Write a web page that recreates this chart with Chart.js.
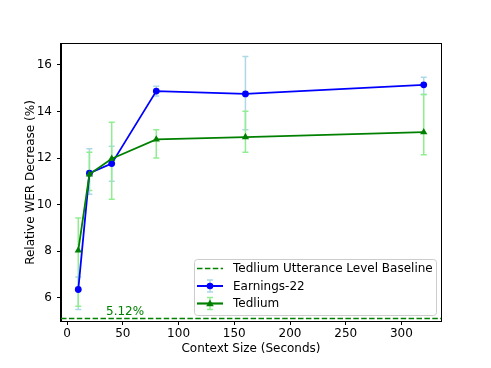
<!DOCTYPE html>
<html>
<head>
<meta charset="utf-8">
<script src="https://cdn.jsdelivr.net/npm/chart.js@4.4.1/dist/chart.umd.min.js"></script>
<style>
  html, body { margin: 0; padding: 0; background: #fff; }
  #wrap { width: 491px; height: 368px; }
</style>
</head>
<body>
<div id="wrap"><canvas id="chart" width="491" height="368"></canvas></div>
<script>
// context sizes in seconds
const contextSizes = [10, 20, 40, 80, 160, 320];

// Earnings-22 relative WER decrease (%) with error bar ends
const earningsVals = [6.36, 11.35, 11.76, 14.87, 14.75, 15.14];
const earningsLow  = [5.50, 10.45, 11.00, 14.66, 13.21, 14.72];
const earningsHigh = [6.90, 12.40, 12.50, 15.08, 16.35, 15.46];

// Tedlium relative WER decrease (%) with error bar ends
const tedliumVals = [8.04, 11.30, 11.97, 12.80, 12.90, 13.11];
const tedliumLow  = [5.64, 10.61, 10.23, 12.00, 12.25, 12.14];
const tedliumHigh = [9.43, 12.25, 13.53, 13.21, 14.01, 14.72];

// utterance level baseline
const baselineValue = 5.12;
const baselineLabel = '5.12%';
const baselineLabelX = 52;

const xTicks = [0, 50, 100, 150, 200, 250, 300];
const yTicks = [6, 8, 10, 12, 14, 16];

const FONT = 'DejaVu Sans';
const FS = 12;

function toPoints(xs, ys) {
    return xs.map((x, i) => ({ x: x, y: ys[i] }));
}

// errorbars drawn under the lines
const errorBarPlugin = {
    id: 'errorBars',
    beforeDatasetsDraw(chart) {
        const ctx = chart.ctx;
        const xs = chart.scales.x, ys = chart.scales.y;
        chart.data.datasets.forEach((ds) => {
            if (!ds.errLow) return;
            ctx.save();
            ctx.strokeStyle = ds.errColor;
            ctx.lineWidth = 1.5;
            ds.data.forEach((p, i) => {
                const px = xs.getPixelForValue(p.x);
                const yLo = ys.getPixelForValue(ds.errLow[i]);
                const yHi = ys.getPixelForValue(ds.errHigh[i]);
                ctx.beginPath();
                ctx.moveTo(px, yLo); ctx.lineTo(px, yHi);
                ctx.moveTo(px - 3, yLo); ctx.lineTo(px + 3, yLo);
                ctx.moveTo(px - 3, yHi); ctx.lineTo(px + 3, yHi);
                ctx.stroke();
            });
            ctx.restore();
        });
    }
};

// dashed baseline + label, frame, legend
const extrasPlugin = {
    id: 'extras',
    afterDatasetsDraw(chart) {
        const ctx = chart.ctx;
        const ca = chart.chartArea;
        const ys = chart.scales.y, xs = chart.scales.x;
        const by = ys.getPixelForValue(baselineValue);
        ctx.save();
        ctx.strokeStyle = '#008000';
        ctx.lineWidth = 1.5;
        ctx.setLineDash([5.5, 2.4]);
        ctx.beginPath();
        ctx.moveTo(ca.left, by); ctx.lineTo(ca.right, by);
        ctx.stroke();
        ctx.setLineDash([]);
        ctx.fillStyle = '#008000';
        ctx.font = FS + 'px "' + FONT + '"';
        ctx.textAlign = 'center';
        ctx.textBaseline = 'bottom';
        ctx.fillText(baselineLabel, xs.getPixelForValue(baselineLabelX), by - 1);
        ctx.restore();
    },
    afterDraw(chart) {
        const ctx = chart.ctx;
        const ca = chart.chartArea;
        ctx.save();
        // frame (matplotlib spines)
        ctx.strokeStyle = '#000';
        ctx.lineWidth = 1;
        ctx.strokeRect(Math.round(ca.left) - 0.5, Math.round(ca.top) - 0.5,
                       Math.round(ca.right - ca.left) + 1, Math.round(ca.bottom - ca.top) + 1);

        // legend, lower right
        const w = 242, h = 56;
        const lx = ca.right - 5 - w, ly = ca.bottom - 6 - h;
        ctx.fillStyle = 'rgba(255,255,255,0.8)';
        ctx.strokeStyle = '#cccccc';
        ctx.beginPath();
        ctx.roundRect(lx + 0.5, ly + 0.5, w, h, 3);
        ctx.fill();
        ctx.stroke();

        const rows = [
            { label: 'Tedlium Utterance Level Baseline', color: '#008000', dashed: true },
            { label: 'Earnings-22', color: '#0000ff', err: '#add8e6', marker: 'circle' },
            { label: 'Tedlium', color: '#008000', err: '#90ee90', marker: 'triangle' }
        ];
        ctx.font = FS + 'px "' + FONT + '"';
        ctx.textAlign = 'left';
        ctx.textBaseline = 'middle';
        rows.forEach((r, i) => {
            const cy = ly + 9.5 + i * 17.5;
            const x0 = lx + 3, x1 = lx + 29, cx = (x0 + x1) / 2;
            ctx.strokeStyle = r.color;
            ctx.lineWidth = 1.6;
            if (r.dashed) ctx.setLineDash([5.5, 2.4]);
            ctx.beginPath(); ctx.moveTo(x0, cy); ctx.lineTo(x1, cy); ctx.stroke();
            ctx.setLineDash([]);
            if (r.err) {
                ctx.strokeStyle = r.err;
                ctx.lineWidth = 1.5;
                ctx.beginPath();
                ctx.moveTo(cx, cy - 6); ctx.lineTo(cx, cy + 6);
                ctx.moveTo(cx - 3, cy - 6); ctx.lineTo(cx + 3, cy - 6);
                ctx.moveTo(cx - 3, cy + 6); ctx.lineTo(cx + 3, cy + 6);
                ctx.stroke();
                ctx.strokeStyle = r.color;
                ctx.lineWidth = 1.8;
                ctx.beginPath(); ctx.moveTo(x0, cy); ctx.lineTo(x1, cy); ctx.stroke();
                ctx.fillStyle = r.color;
                ctx.beginPath();
                if (r.marker === 'circle') {
                    ctx.arc(cx, cy, 3.3, 0, Math.PI * 2);
                } else {
                    ctx.moveTo(cx, cy - 4); ctx.lineTo(cx + 3.8, cy + 2.8); ctx.lineTo(cx - 3.8, cy + 2.8);
                    ctx.closePath();
                }
                ctx.fill();
            }
            ctx.fillStyle = '#000';
            ctx.fillText(r.label, lx + 39, cy + 0.5);
        });
        ctx.restore();
    }
};

new Chart(document.getElementById('chart'), {
    type: 'line',
    data: {
        datasets: [
            {
                label: 'Earnings-22',
                data: toPoints(contextSizes, earningsVals),
                errLow: earningsLow, errHigh: earningsHigh, errColor: '#add8e6',
                borderColor: '#0000ff', backgroundColor: '#0000ff',
                borderWidth: 1.8, pointStyle: 'circle', pointRadius: 3.4,
                pointBorderWidth: 0, tension: 0, order: 1
            },
            {
                label: 'Tedlium',
                data: toPoints(contextSizes, tedliumVals),
                errLow: tedliumLow, errHigh: tedliumHigh, errColor: '#90ee90',
                borderColor: '#008000', backgroundColor: '#008000',
                borderWidth: 1.8, pointStyle: 'triangle', pointRadius: 4.2,
                pointBorderWidth: 0, tension: 0, order: 0
            }
        ]
    },
    options: {
        responsive: false,
        animation: false,
        devicePixelRatio: 1,
        layout: { padding: { left: 0, right: 50, top: 44, bottom: 0 } },
        plugins: { legend: { display: false }, tooltip: { enabled: false } },
        scales: {
            x: {
                type: 'linear',
                min: -5.5, max: 335.5,
                afterFit(scale) { scale.height = 47; },
                afterBuildTicks(scale) { scale.ticks = xTicks.map(v => ({ value: v })); },
                grid: { drawOnChartArea: false, drawTicks: true, tickLength: 4, color: '#000' },
                border: { display: true, color: '#000' },
                ticks: { color: '#000', padding: 2, maxRotation: 0, font: { family: FONT, size: FS } },
                title: {
                    display: true, text: 'Context Size (Seconds)', color: '#000',
                    font: { family: FONT, size: FS }, padding: { top: 0, bottom: 12 }
                }
            },
            y: {
                min: 5.01, max: 16.89,
                afterFit(scale) { scale.width = 61; },
                afterBuildTicks(scale) { scale.ticks = yTicks.map(v => ({ value: v })); },
                grid: { drawOnChartArea: false, drawTicks: true, tickLength: 4, color: '#000' },
                border: { display: true, color: '#000' },
                ticks: { color: '#000', padding: 5, font: { family: FONT, size: FS } },
                title: {
                    display: true, text: 'Relative WER Decrease (%)', color: '#000',
                    font: { family: FONT, size: FS }, padding: { top: 24, bottom: 0 }
                }
            }
        }
    },
    plugins: [errorBarPlugin, extrasPlugin]
});
</script>
</body>
</html>
